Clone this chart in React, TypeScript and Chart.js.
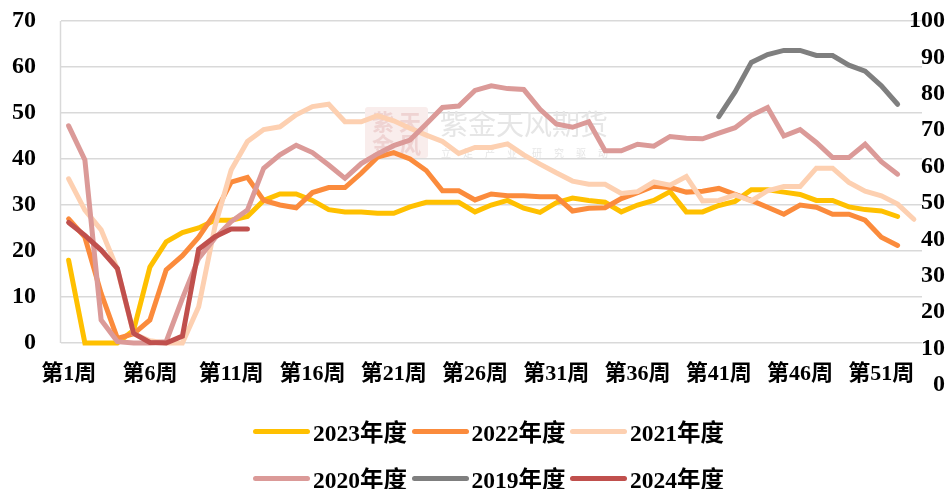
import React, { useEffect, useRef } from "react";
import { Chart, registerables } from "chart.js";

Chart.register(...registerables);

const weeks = [
  "第1周","第2周","第3周","第4周","第5周","第6周","第7周","第8周","第9周","第10周",
  "第11周","第12周","第13周","第14周","第15周","第16周","第17周","第18周","第19周","第20周",
  "第21周","第22周","第23周","第24周","第25周","第26周","第27周","第28周","第29周","第30周",
  "第31周","第32周","第33周","第34周","第35周","第36周","第37周","第38周","第39周","第40周",
  "第41周","第42周","第43周","第44周","第45周","第46周","第47周","第48周","第49周","第50周",
  "第51周","第52周","第53周",
];
const leftTicks = [0, 10, 20, 30, 40, 50, 60, 70];

const y2023 = [18,0,0,0,2.8,16.5,22,24,25,26.7,26.7,27.5,31,32.4,32.4,31,29,28.5,28.5,28.2,28.2,29.6,30.6,30.6,30.6,28.5,30,31,29.3,28.4,30.5,31.5,31,30.6,28.5,30,31,32.9,28.5,28.5,29.9,30.8,33.3,33.3,32.8,32.3,31,31,29.6,29,28.7,27.5];
const y2022 = [27,23,10.8,1,2,5,15.9,19,23,28.2,35,36,31,30,29.4,32.7,33.8,33.8,36.9,40.4,41.4,40,37.5,33.1,33.1,31.1,32.4,32,32,31.8,31.8,28.7,29.3,29.4,31.4,32.7,34.1,33.8,32.8,33,33.6,32.3,31,29.5,28,30,29.5,28,28,26.7,23,21.2];
const y2021 = [35.7,28.9,24.6,16,2,0.5,0,0,7.9,25.3,37.6,43.8,46.4,47,49.6,51.4,51.9,48.1,48.1,49.4,48.3,46.7,45.2,43.8,41.2,42.5,42.5,43.3,40.9,38.9,37,35.2,34.5,34.5,32.5,32.9,35,34.3,36.2,30.9,31,32.2,30.9,33.1,34,34,38,38,34.9,33,32,30.2,26.9];
const y2020 = [47.2,39.8,5,0.3,0,0,0.3,9.7,18.4,22.8,26.4,28.9,38,40.9,43,41.4,38.7,35.8,39,41.1,42.9,44.1,47.6,51.2,51.5,54.9,55.9,55.3,55.1,50.8,47.6,46.9,48.1,41.8,41.8,43.2,42.8,44.9,44.5,44.4,45.6,46.8,49.5,51.2,45,46.4,43.6,40.3,40.3,43.2,39.4,36.7];
const y2019 = [null,null,null,null,null,null,null,null,null,null,null,null,null,null,null,null,null,null,null,null,null,null,null,null,null,null,null,null,null,null,null,null,null,null,null,null,null,null,null,null,49.2,54.6,61,62.7,63.6,63.6,62.5,62.5,60.4,59.1,55.9,51.9];
const y2024 = [26.2,23.4,20.2,16.2,2.1,0.1,0,1.5,20.4,23.1,24.8,24.8];

const seriesNames = ["2023年度","2022年度","2021年度","2020年度","2019年度","2024年度"];
const seriesColors = ["#FFC000","#FB8B3C","#FDD0B1","#DB9A98","#7F7F7F","#C0504D"];
const seriesValues = [y2023,y2022,y2021,y2020,y2019,y2024];

const latinCjk = '"Liberation Serif", "Noto Sans CJK SC", serif';

const backdrop = {
  id: "backdrop",
  beforeDatasetsDraw(chart: any) {
    const { ctx, chartArea, scales } = chart;
    ctx.save();
    // left axis line, only as far down as the zero line
    ctx.strokeStyle = "#D9D9D9";
    ctx.lineWidth = 1.5;
    ctx.beginPath();
    ctx.moveTo(chartArea.left, scales.y.getPixelForValue(70));
    ctx.lineTo(chartArea.left, scales.y.getPixelForValue(0));
    ctx.stroke();
    // watermark
    ctx.fillStyle = "#F9EDEC";
    ctx.beginPath();
    ctx.roundRect(365, 107, 63, 51, 3);
    ctx.fill();
    ctx.fillStyle = "#EFD3D2";
    ctx.font = 'bold 22px "Noto Sans CJK SC"';
    ctx.textAlign = "center";
    ctx.textBaseline = "middle";
    ctx.fillText("紫", 383, 122);
    ctx.fillText("金", 383, 145);
    ctx.fillText("天", 410, 122);
    ctx.fillText("风", 410, 145);
    ctx.fillStyle = "#E6E6E6";
    ctx.font = '28px "Noto Sans CJK SC"';
    ctx.textAlign = "left";
    ctx.fillText("紫金天风期货", 440, 124);
    ctx.font = '10px "Noto Sans CJK SC"';
    ctx.letterSpacing = "12px";
    ctx.fillText("立足产业", 441, 153);
    ctx.fillText("研究驱动", 532, 153);
    ctx.restore();
  },
};

const sampleStyle = (color: string): React.CSSProperties => ({
  display: "inline-block",
  width: 57,
  height: 5,
  borderRadius: 3,
  background: color,
  marginRight: 3,
  flex: "none",
});

const legendRows = [[0, 1, 2], [3, 4, 5]];

export default function App() {
  const ref = useRef<HTMLCanvasElement>(null);
  useEffect(() => {
    const chart = new Chart(ref.current!, {
      type: "line",
      data: {
        labels: weeks,
        datasets: seriesNames.map((name, i) => ({
          label: name,
          data: seriesValues[i],
          borderColor: seriesColors[i],
          backgroundColor: seriesColors[i],
          borderWidth: 5,
          borderCapStyle: "round",
          borderJoinStyle: "miter",
          pointRadius: 0,
          tension: 0,
          spanGaps: false,
          order: -i,
          clip: false,
        })),
      },
      plugins: [backdrop],
      options: {
        animation: false,
        responsive: false,
        layout: { autoPadding: false, padding: { top: 21, bottom: 104, left: 0, right: 0 } },
        plugins: { legend: { display: false }, tooltip: { enabled: false } },
        scales: {
          x: {
            type: "category",
            position: { y: 0 },
            offset: true,
            grid: { display: false },
            border: { display: false },
            ticks: {
              autoSkip: false,
              maxRotation: 0,
              minRotation: 0,
              padding: 10,
              color: "#000",
              font: { family: latinCjk, size: 22, weight: "bold" },
              callback: (_v: any, i: number) => (i % 5 === 0 && i < 52 ? weeks[i] : ""),
            },
          },
          y: {
            position: "left",
            min: -9.13,
            max: 70,
            afterBuildTicks: (s: any) => { s.ticks = leftTicks.map((value) => ({ value })); },
            afterFit: (s: any) => { s.width = 60.5; },
            grid: { color: "#D9D9D9", lineWidth: 1.5, drawTicks: false },
            border: { display: false },
            ticks: {
              mirror: true,
              crossAlign: "far",
              padding: -48.5,
              color: "#000",
              font: { family: latinCjk, size: 24, weight: "bold" },
            },
          },
          y2: {
            position: "right",
            min: 0,
            max: 100,
            afterFit: (s: any) => {
              s.width = 28;
              s.paddingTop = 0;
              s.paddingBottom = 0;
            },
            grid: { display: false, drawTicks: false },
            border: { display: false },
            ticks: {
              stepSize: 10,
              mirror: true,
              padding: 23,
              color: "#000",
              font: { family: latinCjk, size: 24, weight: "bold" },
            },
          },
        },
      },
    } as any);
    return () => chart.destroy();
  }, []);

  return (
    <div style={{ position: "absolute", left: 0, top: 0, width: 950, height: 489 }}>
      <canvas ref={ref} width={950} height={489} style={{ display: "block" }} />
      {legendRows.map((row, r) => (
        <div key={r}>
          {row.map((idx, c) => (
            <div
              key={idx}
              style={{
                position: "absolute",
                left: 253 + c * 158.5,
                top: 415 + r * 47,
                height: 32,
                display: "flex",
                alignItems: "center",
                whiteSpace: "nowrap",
                fontFamily: latinCjk,
                fontWeight: "bold",
                fontSize: 23.5,
                color: "#000",
              }}
            >
              <span style={sampleStyle(seriesColors[idx])} />
              {seriesNames[idx]}
            </div>
          ))}
        </div>
      ))}
    </div>
  );
}
